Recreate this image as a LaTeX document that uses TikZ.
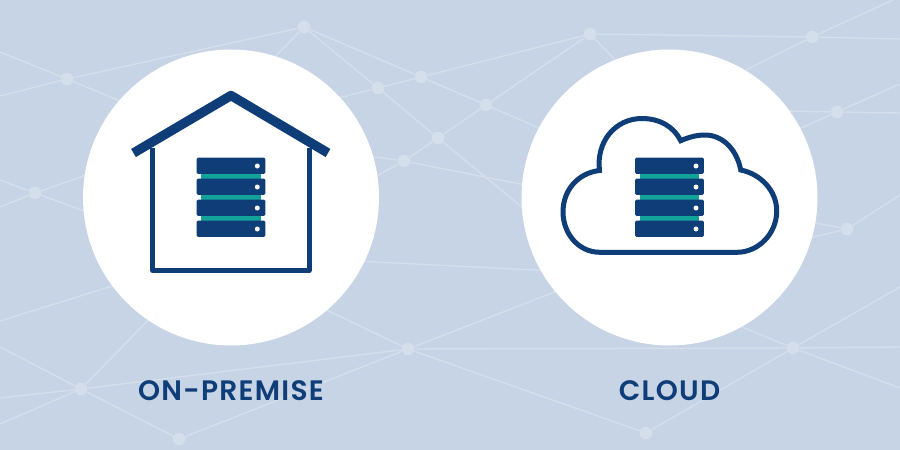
\documentclass[tikz,border=0pt]{standalone}
\usepackage{fontspec}
\usepackage{xcolor}
\newfontfamily\labelfont[LetterSpace=4.5]{Poppins SemiBold}
\definecolor{backblue}{HTML}{C7D4E6}
\definecolor{netline}{HTML}{D5DFEC}
\definecolor{hubfill}{HTML}{D5DFEC}
\definecolor{navy}{HTML}{0F3D78}
\definecolor{tealbar}{HTML}{12A39B}
\tikzset{
  hub/.style={circle,fill=hubfill,inner sep=0pt,minimum size=0.25cm},
  net/.style={draw=netline,line width=0.8pt},
  disc/.style={circle,fill=white,inner sep=0pt,minimum size=5.92cm},
  slab/.style={rectangle,fill=navy,rounded corners=0.03cm,inner sep=0pt,minimum width=1.38cm,minimum height=0.326cm},
  bar/.style={rectangle,fill=tealbar,inner sep=0pt,minimum width=1.2cm,minimum height=0.1cm},
  led/.style={circle,fill=white,inner sep=0pt,minimum size=0.1cm},
  caption/.style={text=navy,inner sep=0pt,font=\labelfont\fontsize{16pt}{18pt}\selectfont}
}
\begin{document}
\begin{tikzpicture}[x=0.02cm,y=-0.02cm]
      \useasboundingbox (0,0) rectangle (900,450);
      \fill[backblue] (0,0) rectangle (900,450);
        % Hubs
      \node[hub] (n1) at (304,27) {};
      \node[hub] (n2) at (67,79) {};
      \node[hub] (n3) at (378,88) {};
      \node[hub] (n4) at (421,77) {};
      \node[hub] (n5) at (438,138) {};
      \node[hub] (n6) at (404,161) {};
      \node[hub] (n7) at (35,193) {};
      \node[hub] (n8) at (590,34) {};
      \node[hub] (n9) at (812,37) {};
      \node[hub] (n10) at (486,105) {};
      \node[hub] (n11) at (837,112) {};
      \node[hub] (n12) at (81,389) {};
      \node[hub] (n13) at (179,439) {};
      \node[hub] (n14) at (408,349) {};
      \node[hub] (n15) at (793,348) {};
      \node[hub] (n16) at (646,433) {};
      \node[hub] (n17) at (847,229) {};
        % Free ends
      \coordinate (e1) at (0,52);
      \coordinate (e2) at (130,105);
      \coordinate (e3) at (0,96);
      \coordinate (e4) at (265,67);
      \coordinate (e5) at (330,100);
      \coordinate (e6) at (560,137);
      \coordinate (e7) at (540,222);
      \coordinate (e8) at (360,185);
      \coordinate (e9) at (360,155);
      \coordinate (e10) at (535,187);
      \coordinate (e11) at (625,70);
      \coordinate (e12) at (900,39);
      \coordinate (e13) at (893,0);
      \coordinate (e14) at (730,78);
      \coordinate (e15) at (900,84);
      \coordinate (e16) at (790,133);
      \coordinate (e17) at (900,113);
      \coordinate (e18) at (780,111);
      \coordinate (e19) at (900,195);
      \coordinate (e20) at (805,239);
      \coordinate (e21) at (800,220);
      \coordinate (e22) at (0,180);
      \coordinate (e23) at (95,215);
      \coordinate (e24) at (0,207);
      \coordinate (e25) at (95,172);
      \coordinate (e26) at (0,347);
      \coordinate (e27) at (160,308);
      \coordinate (e28) at (0,398);
      \coordinate (e29) at (0,424);
      \coordinate (e30) at (0,321);
      \coordinate (e31) at (125,282);
      \coordinate (e32) at (310,302);
      \coordinate (e33) at (570,286);
      \coordinate (e34) at (900,347);
      \coordinate (e35) at (725,320);
      \coordinate (e36) at (900,388);
      \coordinate (e37) at (900,287);
      \coordinate (e38) at (355,261);
      \coordinate (e39) at (555,271);
        % Network lines
      \draw[net] (e1) -- (n2);
      \draw[net] (n2) -- (e2);
      \draw[net] (e3) -- (n2);
      \draw[net] (n2) -- (n1);
      \draw[net] (n1) -- (e4);
      \draw[net] (n1) -- (n3);
      \draw[net] (n1) -- (n4);
      \draw[net] (n4) -- (n10);
      \draw[net] (n10) -- (e6);
      \draw[net] (e5) -- (n3);
      \draw[net] (n3) -- (n4);
      \draw[net] (n4) -- (n8);
      \draw[net] (n3) -- (n5);
      \draw[net] (n5) -- (e7);
      \draw[net] (n5) -- (n6);
      \draw[net] (n6) -- (e8);
      \draw[net] (e9) -- (n6);
      \draw[net] (n6) -- (e10);
      \draw[net] (n5) -- (n10);
      \draw[net] (n10) -- (n8);
      \draw[net] (n8) -- (e11);
      \draw[net] (n8) -- (n9);
      \draw[net] (n9) -- (e12);
      \draw[net] (n9) -- (e13);
      \draw[net] (n9) -- (e14);
      \draw[net] (e15) -- (n11);
      \draw[net] (n11) -- (e16);
      \draw[net] (e17) -- (n11);
      \draw[net] (n11) -- (e18);
      \draw[net] (n17) -- (e19);
      \draw[net] (n17) -- (e20);
      \draw[net] (n17) -- (e21);
      \draw[net] (e22) -- (n7);
      \draw[net] (n7) -- (e23);
      \draw[net] (e24) -- (n7);
      \draw[net] (n7) -- (e25);
      \draw[net] (e26) -- (n12);
      \draw[net] (n12) -- (e27);
      \draw[net] (e28) -- (n12);
      \draw[net] (e29) -- (n12);
      \draw[net] (n12) -- (n13);
      \draw[net] (n12) -- (n14);
      \draw[net] (n13) -- (n14);
      \draw[net] (e30) -- (e31);
      \draw[net] (n14) -- (e32);
      \draw[net] (n14) -- (e33);
      \draw[net] (n14) -- (n15);
      \draw[net] (n14) -- (n16);
      \draw[net] (n15) -- (e34);
      \draw[net] (n15) -- (e35);
      \draw[net] (n15) -- (e36);
      \draw[net] (n15) -- (n16);
      \draw[net] (n15) -- (e37);
      \draw[net] (e38) -- (e39);
        % White discs
      \node[disc] (left) at (231,197.5) {};
      \node[disc] (right) at (669.5,197.5) {};
        % House
      \draw[navy,line width=0.1cm,line join=round] (152.5,148) -- (152.5,270.5) -- (309,270.5) -- (309,148);
      \draw[navy,line width=0.188cm,line join=round] (133.5,153) -- (231,95.5) -- (328,153);
        % Cloud
      \draw[navy,line width=0.1cm,line join=miter] (600,252.3) .. controls (578,252.3) and (563,233) .. (563,212)
        .. controls (563,190) and (578,173) .. (599.5,170.5)
        .. controls (596,142) and (615,118.5) .. (642,118.5)
        .. controls (660,118.5) and (674,127) .. (680.7,140.7)
        .. controls (689,137) and (697,135) .. (705,135)
        .. controls (723,135) and (737,150) .. (740.7,170)
        .. controls (761,174) and (776.7,191) .. (776.7,211)
        .. controls (776.7,234) and (758,252.3) .. (737,252.3) -- cycle;
        % Left server
      \node[bar] (lb1) at (231,176.3) {};
      \node[bar] (lb2) at (231,197.3) {};
      \node[bar] (lb3) at (231,218.2) {};
      \node[slab] (ls1) at (231,165.8) {};
      \node[slab] (ls2) at (231,186.8) {};
      \node[slab] (ls3) at (231,207.7) {};
      \node[slab] (ls4) at (231,228.7) {};
      \node[led] (ll1) at (257.3,166) {};
      \node[led] (ll2) at (257.3,187) {};
      \node[led] (ll3) at (257.3,208) {};
      \node[led] (ll4) at (257.3,229) {};
        % Right server
      \node[bar] (rb1) at (669.5,176.3) {};
      \node[bar] (rb2) at (669.5,197.3) {};
      \node[bar] (rb3) at (669.5,218.2) {};
      \node[slab] (rs1) at (669.5,165.8) {};
      \node[slab] (rs2) at (669.5,186.8) {};
      \node[slab] (rs3) at (669.5,207.7) {};
      \node[slab] (rs4) at (669.5,228.7) {};
      \node[led] (rl1) at (696,166) {};
      \node[led] (rl2) at (696,187) {};
      \node[led] (rl3) at (696,208) {};
      \node[led] (rl4) at (696,229) {};
        % Labels
      \node[caption] (onprem) at (231,391) {ON-PREMISE};
      \node[caption] (cloud) at (669.5,391) {CLOUD};
\end{tikzpicture}
\end{document}
